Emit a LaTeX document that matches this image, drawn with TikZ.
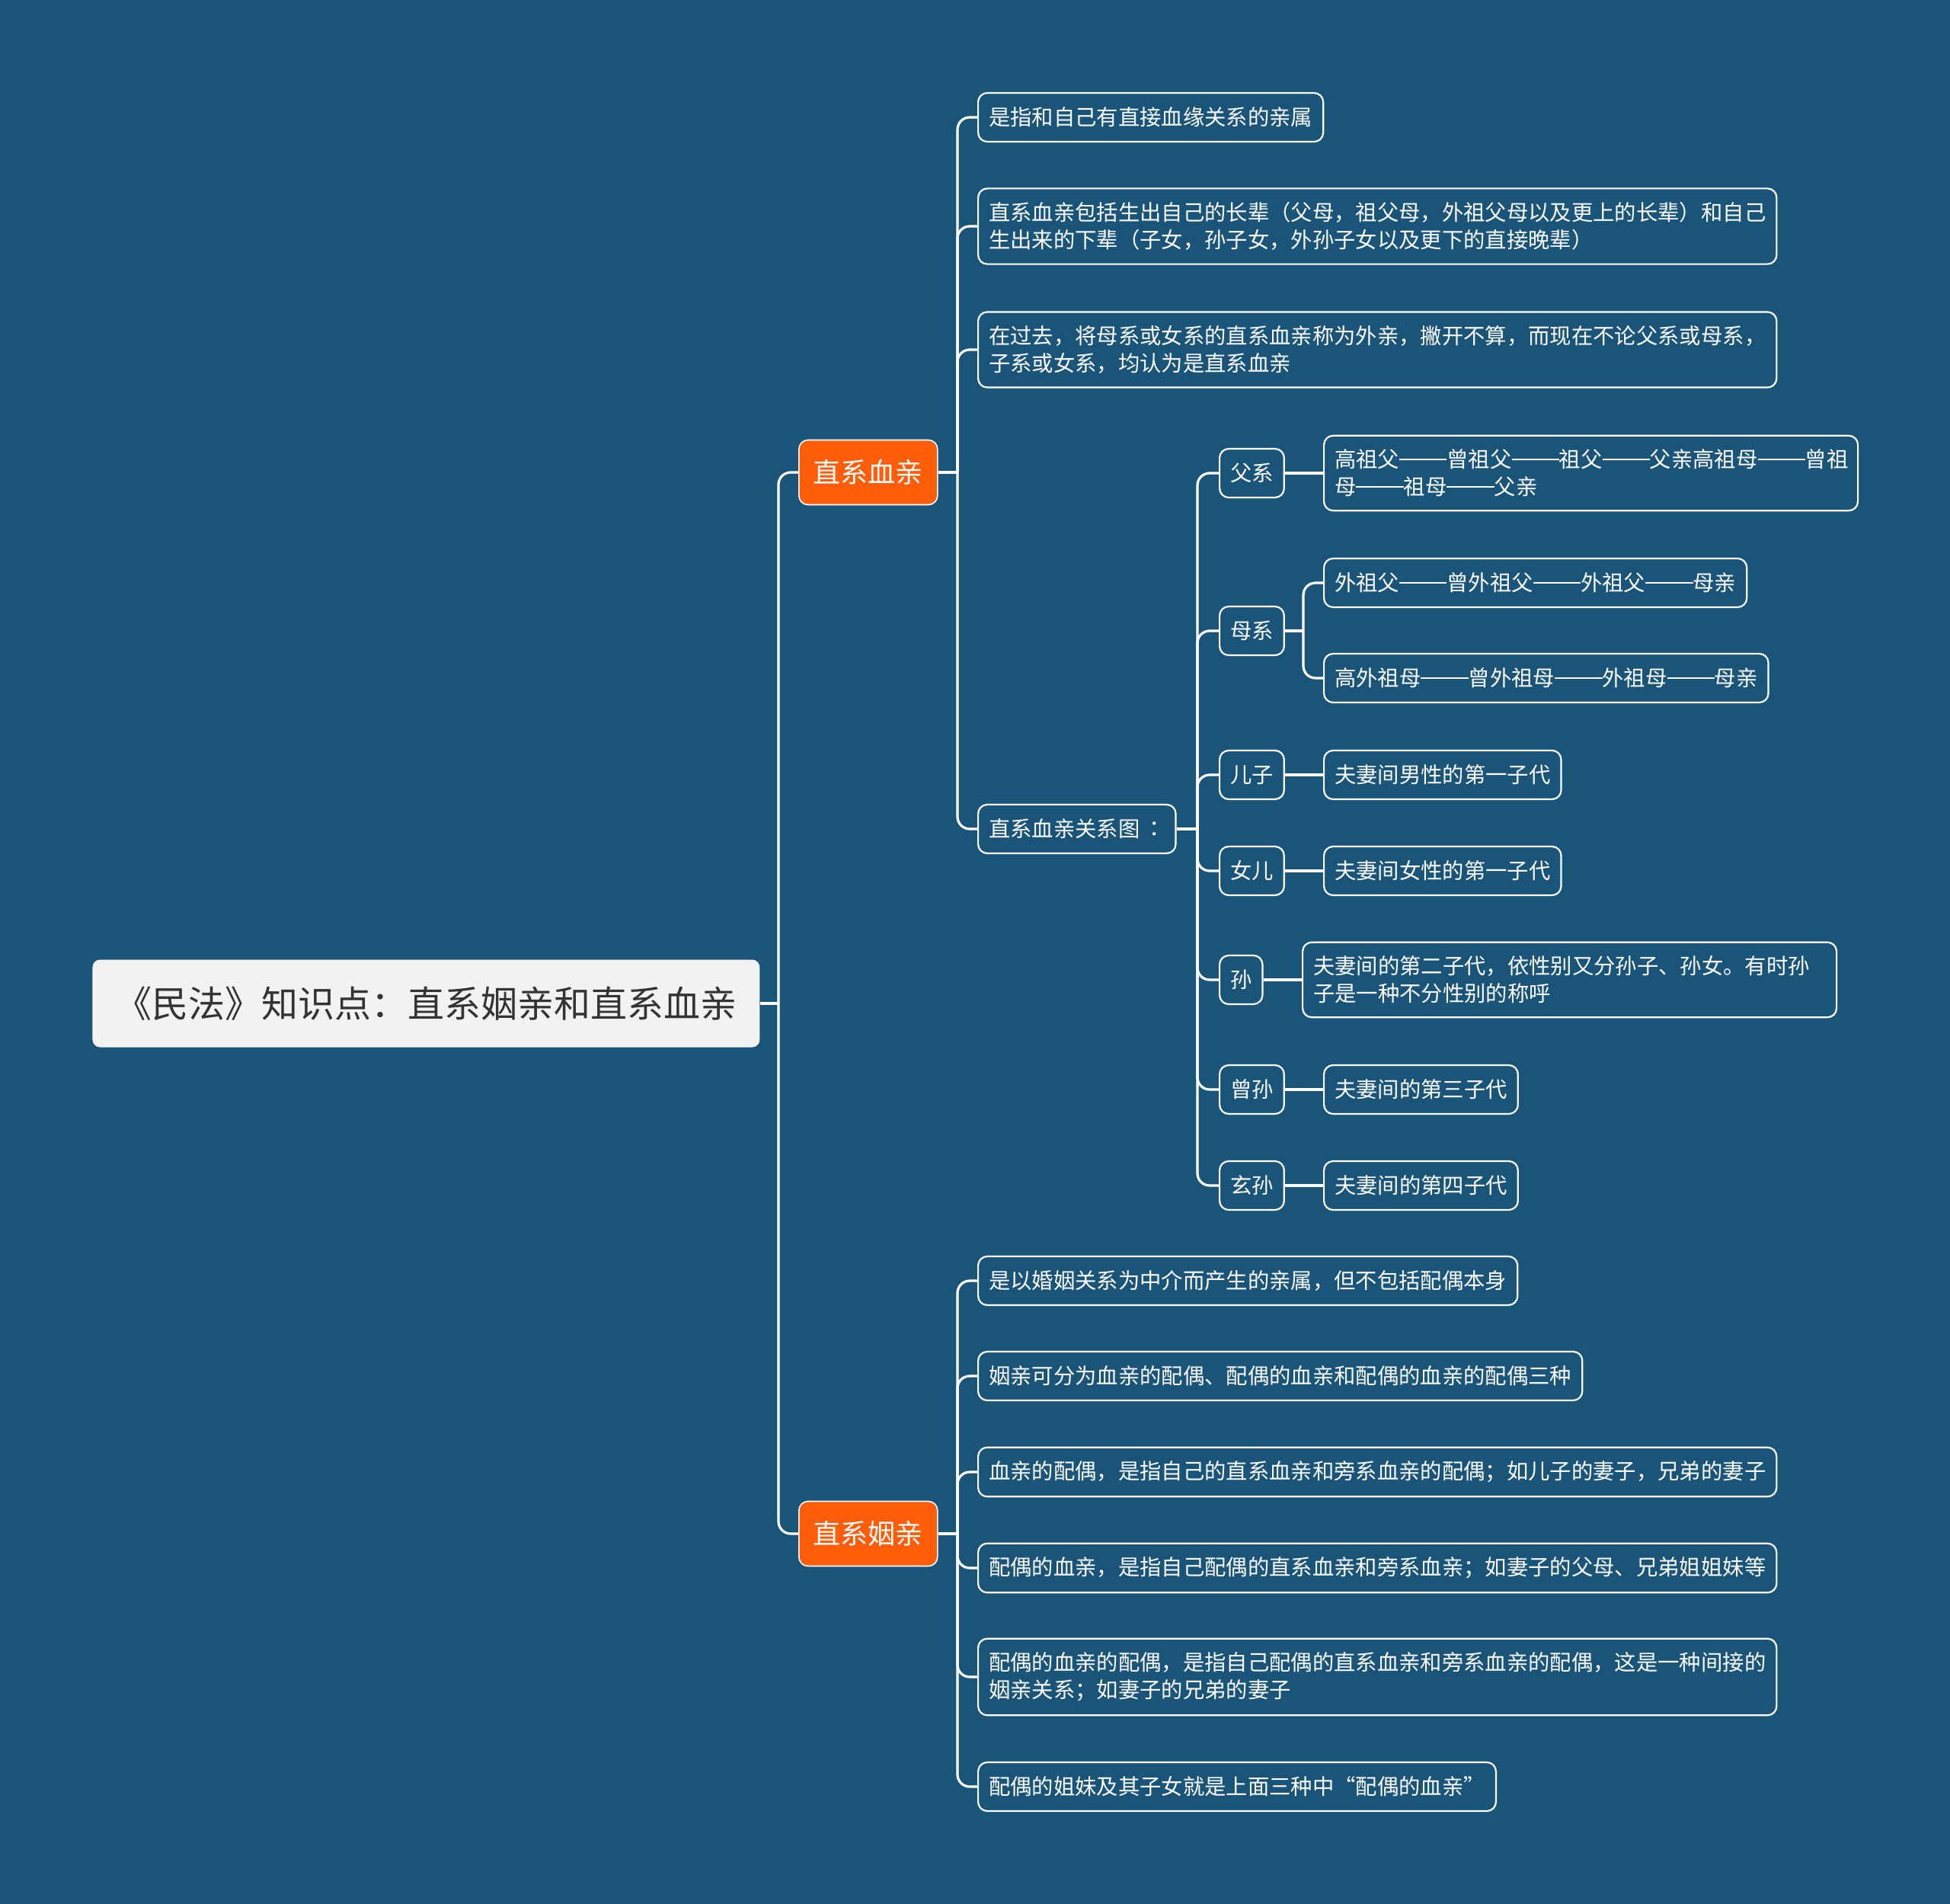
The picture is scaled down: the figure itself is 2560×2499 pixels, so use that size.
\documentclass[tikz,border=0pt]{standalone}
\usepackage{fontspec}
\setmainfont{Noto Sans CJK SC}
\newfontfamily\tcfont{Noto Sans CJK TC}
\usepackage{tikz}
\usetikzlibrary{positioning, calc}
\usepackage{xcolor}
\definecolor{mapBg}{HTML}{1A5479}
\definecolor{mapOrange}{HTML}{FF5D0A}
\definecolor{mapRoot}{HTML}{F2F2F2}
\definecolor{mapText}{HTML}{333333}
\newcommand{\kinDash}{\rule[0.35em]{2.2em}{0.06em}}

\begin{document}
\begin{tikzpicture}[
    x=0.5pt, y=-0.5pt,
    rootbox/.style={
      rectangle, fill=mapRoot, rounded corners=5pt, text=mapText,
      anchor=west, inner xsep=15pt, minimum height=57.5pt,
      font=\fontsize{24pt}{28pt}\selectfont
    },
    topic/.style={
      rectangle, draw=white, line width=0.8pt, fill=mapOrange,
      rounded corners=6pt, text=white, anchor=west,
      inner xsep=9.5pt, minimum height=42.5pt,
      font=\fontsize{18pt}{22pt}\selectfont
    },
    leaf/.style={
      rectangle, draw=white, line width=1.1pt, rounded corners=6pt,
      text=white, align=left, anchor=west,
      inner xsep=7pt, inner ysep=9pt, minimum height=32pt,
      font=\fontsize{14.17pt}{18pt}\selectfont
    },
    wide/.style={leaf, text width=336.5pt},
    edge/.style={draw=white, line width=1.6pt, rounded corners=8pt}
  ]

  % --- FONDO ---
  \fill[mapBg] (0,0) rectangle (2560,2499);
  \useasboundingbox (0,0) rectangle (2560,2499);

  % --- RAIZ ---
  \node[rootbox] (root) at (121,1317) {《民法》知识点：直系姻亲和直系血亲};

  % --- RAMAS PRINCIPALES ---
  \node[topic] (lineal) at (1048,620) {直系血亲};
  \node[topic] (affinal) at (1048,2013) {直系姻亲};

  % --- DIRECT BLOOD RELATIVES ---
  \node[leaf] (lineA) at (1283,154) {是指和自己有直接血缘关系的亲属};
  \node[leaf] (lineB) at (1283,297) {直系血亲包括生出自己的长辈（父母，祖父母，外祖父母以及更上的长辈）和自己\\生出来的下辈（子女，孙子女，外孙子女以及更下的直接晚辈）};
  \node[leaf] (lineC) at (1283,459) {在过去，将母系或女系的直系血亲称为外亲，撇开不算，而现在不论父系或母系，\\子系或女系，均认为是直系血亲};
  \node[leaf] (lineMap) at (1283,1088) {直系血亲关系图\,{\tcfont ：}};

  % --- RELATION MAP ---
  \node[leaf] (father) at (1600,621) {父系};
  \node[leaf] (mother) at (1600,828) {母系};
  \node[leaf] (son) at (1600,1017) {儿子};
  \node[leaf] (daughter) at (1600,1143) {女儿};
  \node[leaf] (grand) at (1600,1286) {孙};
  \node[leaf] (ggrand) at (1600,1430) {曾孙};
  \node[leaf] (gggrand) at (1600,1556) {玄孙};

  \node[wide] (fatherA) at (1737,621) {高祖父\kinDash 曾祖父\kinDash 祖父\kinDash 父亲高祖母\kinDash 曾祖\\母\kinDash 祖母\kinDash 父亲};
  \node[leaf] (motherA) at (1737,765) {外祖父\kinDash 曾外祖父\kinDash 外祖父\kinDash 母亲};
  \node[leaf] (motherB) at (1737,890) {高外祖母\kinDash 曾外祖母\kinDash 外祖母\kinDash 母亲};
  \node[leaf] (sonA) at (1737,1017) {夫妻间男性的第一子代};
  \node[leaf] (daughterA) at (1737,1143) {夫妻间女性的第一子代};
  \node[wide] (grandA) at (1709,1286) {夫妻间的第二子代，依性别又分孙子、孙女。有时孙\\子是一种不分性别的称呼};
  \node[leaf] (ggrandA) at (1737,1430) {夫妻间的第三子代};
  \node[leaf] (gggrandA) at (1737,1556) {夫妻间的第四子代};

  % --- AFFINAL RELATIVES ---
  \node[leaf] (affA) at (1283,1681) {是以婚姻关系为中介而产生的亲属，但不包括配偶本身};
  \node[leaf] (affB) at (1283,1806) {姻亲可分为血亲的配偶、配偶的血亲和配偶的血亲的配偶三种};
  \node[leaf] (affC) at (1283,1932) {血亲的配偶，是指自己的直系血亲和旁系血亲的配偶；如儿子的妻子，兄弟的妻子};
  \node[leaf] (affD) at (1283,2058) {配偶的血亲，是指自己配偶的直系血亲和旁系血亲；如妻子的父母、兄弟姐姐妹等};
  \node[leaf] (affE) at (1283,2201) {配偶的血亲的配偶，是指自己配偶的直系血亲和旁系血亲的配偶，这是一种间接的\\姻亲关系；如妻子的兄弟的妻子};
  \node[leaf] (affF) at (1283,2345) {配偶的姐妹及其子女就是上面三种中“配偶的血亲”};

  % --- TRONCOS ---
  \coordinate (rootTrunk) at (1022,0);
  \coordinate (branchTrunk) at (1257,0);
  \coordinate (mapTrunk) at (1572,0);
  \coordinate (motherTrunk) at (1711,0);

  \draw[edge] (root.east) -- (root.east -| rootTrunk);
  \foreach \n in {lineal, affinal}
    \draw[edge] (root.east -| rootTrunk) |- (\n.west);

  \draw[edge] (lineal.east) -- (lineal.east -| branchTrunk);
  \foreach \n in {lineA, lineB, lineC, lineMap}
    \draw[edge] (lineal.east -| branchTrunk) |- (\n.west);

  \draw[edge] (affinal.east) -- (affinal.east -| branchTrunk);
  \foreach \n in {affA, affB, affC, affD, affE, affF}
    \draw[edge] (affinal.east -| branchTrunk) |- (\n.west);

  \draw[edge] (lineMap.east) -- (lineMap.east -| mapTrunk);
  \foreach \n in {father, mother, son, daughter, grand, ggrand, gggrand}
    \draw[edge] (lineMap.east -| mapTrunk) |- (\n.west);

  \draw[edge] (mother.east) -- (mother.east -| motherTrunk);
  \foreach \n in {motherA, motherB}
    \draw[edge] (mother.east -| motherTrunk) |- (\n.west);

  \foreach \a/\b in {father/fatherA, son/sonA, daughter/daughterA, grand/grandA, ggrand/ggrandA, gggrand/gggrandA}
    \draw[edge] (\a.east) -- (\b.west);

\end{tikzpicture}
\end{document}
